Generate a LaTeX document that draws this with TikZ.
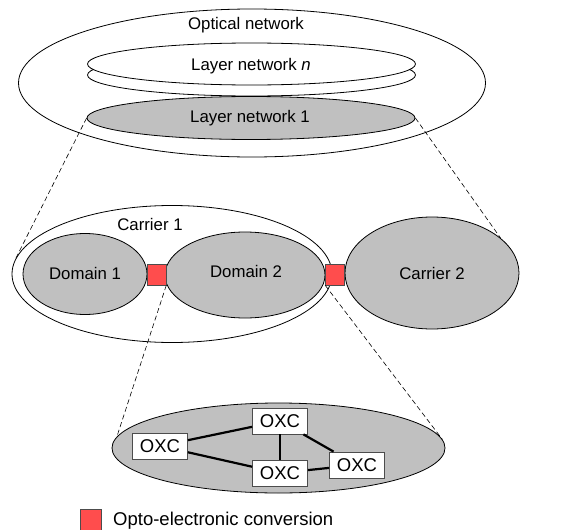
\documentclass[tikz,border=0pt]{standalone}
\usepackage{fontspec}
\setmainfont{Liberation Sans}
\usetikzlibrary{shapes.geometric}
\definecolor{netgray}{RGB}{192,192,192}
\definecolor{convred}{RGB}{255,77,77}
\tikzset{
  ell/.style={ellipse, draw, line width=0.8pt, inner sep=0pt},
  grayell/.style={ell, fill=netgray},
  whiteell/.style={ell, fill=white},
  lbl/.style={font=\fontsize{16.8}{19}\selectfont, inner sep=0pt},
  conv/.style={draw=black!70, line width=0.6pt, fill=convred, minimum width=19pt, minimum height=21pt, inner sep=0pt},
  oxc/.style={draw=black!70, line width=0.8pt, fill=white, minimum width=55pt, minimum height=26pt, inner sep=0pt, font=\fontsize{18.5}{20}\selectfont},
  link/.style={line width=2.2pt},
  zoomline/.style={dashed, dash pattern=on 5pt off 3pt, line width=0.6pt}
}
\begin{document}
\begin{tikzpicture}[x=1pt,y=-1pt]
\useasboundingbox (0,0) rectangle (576,530);
% top
\node[whiteell, minimum width=467pt, minimum height=148pt] (optical) at (252,83) {};
\node[lbl] (opticallbl) at (246,25) {Optical network};
\node[whiteell, minimum width=328pt, minimum height=42pt] (layertwo) at (251.5,75) {};
\node[whiteell, minimum width=328pt, minimum height=42pt] (layern) at (251.5,64) {};
\node[lbl] at (251,66) {Layer network \textit{n}};
\node[grayell, minimum width=328pt, minimum height=43pt] (layer1) at (251,118) {};
\node[lbl] at (250,118) {Layer network 1};
% middle
\node[whiteell, minimum width=320pt, minimum height=137pt] (carrier1) at (172,274) {};
\node[lbl] at (150,224) {Carrier 1};
\node[grayell, minimum width=124pt, minimum height=81pt] (domain1) at (85,274) {};
\node[lbl] at (85,273) {Domain 1};
\node[grayell, minimum width=160pt, minimum height=86pt] (domain2) at (245,275) {};
\node[lbl] at (246,271) {Domain 2};
\node[grayell, minimum width=174pt, minimum height=112pt] (carrier2) at (432,273) {};
\node[lbl] at (432,273) {Carrier 2};
\node[conv] (conv1) at (156.5,274.5) {};
\node[conv] (conv2) at (335,274.5) {};
% bottom
\node[grayell, minimum width=333pt, minimum height=90pt] (subnet) at (278.5,448) {};
\node[oxc] (oxcA) at (160,446) {OXC};
\node[oxc] (oxcB) at (280,421) {OXC};
\node[oxc] (oxcC) at (280,473) {OXC};
\node[oxc] (oxcD) at (357,465) {OXC};
\draw[link] (oxcA) -- (oxcB);
\draw[link] (oxcA) -- (oxcC);
\draw[link] (oxcB) -- (oxcC);
\draw[link] (oxcB) -- (oxcD);
\draw[link] (oxcC) -- (oxcD);
% zoom lines
\draw[zoomline] (layer1.west) -- (carrier1.175);
\draw[zoomline] (layer1.east) -- (carrier2.27);
\draw[zoomline] (conv1.south east) -- (subnet.176.5);
\draw[zoomline] (conv2.south west) -- (subnet.3.9);
% legend
\node[conv, minimum width=21pt, minimum height=21pt] (legsq) at (91,520) {};
\node[lbl, font=\fontsize{18.5}{20}\selectfont, anchor=west] (leglbl) at (113,521) {Opto-electronic conversion};
\end{tikzpicture}
\end{document}
